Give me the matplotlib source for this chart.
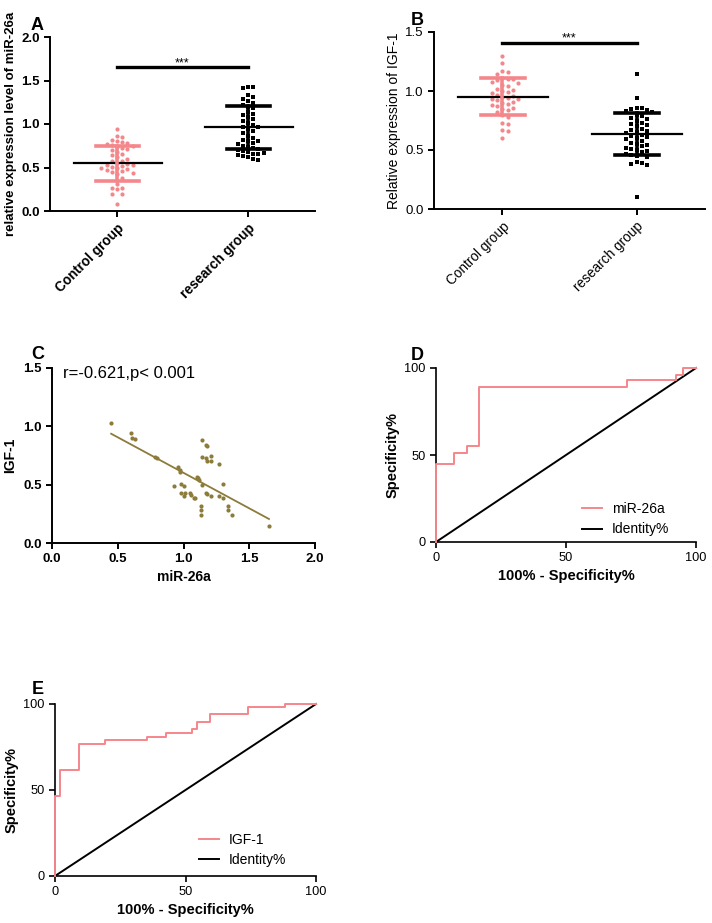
import numpy as np
import matplotlib
matplotlib.use("Agg")
import matplotlib.pyplot as plt

plt.rcParams['font.family'] = ['Liberation Sans', 'DejaVu Sans']

PINK = '#F4878B'
OLIVE = '#8C7B3A'

# ---------------- data ----------------
groups = ["Control group", "research group"]

A_control = [0.94, 0.86, 0.85, 0.82, 0.80, 0.79, 0.78, 0.77, 0.76, 0.75, 0.74, 0.72,
             0.71, 0.70, 0.68, 0.65, 0.64, 0.62, 0.60, 0.58, 0.57, 0.55, 0.54, 0.53,
             0.53, 0.52, 0.51, 0.50, 0.49, 0.48, 0.47, 0.46, 0.45, 0.44, 0.42, 0.38,
             0.31, 0.26, 0.26, 0.25, 0.20, 0.20, 0.08]
A_research = [1.43, 1.42, 1.41, 1.33, 1.31, 1.29, 1.26, 1.24, 1.22, 1.20, 1.18, 1.14,
              1.12, 1.10, 1.08, 1.06, 1.03, 1.01, 0.99, 0.97, 0.96, 0.94, 0.92, 0.90,
              0.86, 0.84, 0.82, 0.81, 0.80, 0.78, 0.77, 0.75, 0.74, 0.72, 0.71, 0.70,
              0.69, 0.68, 0.67, 0.66, 0.65, 0.64, 0.63, 0.62, 0.60, 0.59]
A_mean = [0.55, 0.96]
A_sd = [0.20, 0.245]
A_sig_y = 1.65

B_control = [1.30, 1.24, 1.17, 1.16, 1.14, 1.11, 1.10, 1.10, 1.09, 1.08, 1.07, 1.05,
             1.04, 1.02, 1.01, 1.00, 0.99, 0.98, 0.97, 0.96, 0.95, 0.94, 0.93, 0.93,
             0.92, 0.91, 0.90, 0.89, 0.88, 0.87, 0.86, 0.85, 0.84, 0.82, 0.80, 0.78,
             0.73, 0.72, 0.67, 0.66, 0.60]
B_research = [1.14, 0.94, 0.86, 0.86, 0.85, 0.84, 0.83, 0.82, 0.80, 0.79, 0.77, 0.76,
              0.75, 0.73, 0.72, 0.71, 0.70, 0.68, 0.67, 0.66, 0.65, 0.64, 0.63, 0.62,
              0.61, 0.60, 0.59, 0.58, 0.56, 0.55, 0.54, 0.53, 0.52, 0.51, 0.50, 0.49,
              0.48, 0.47, 0.46, 0.45, 0.44, 0.40, 0.39, 0.38, 0.37, 0.10]
B_mean = [0.95, 0.635]
B_sd = [0.157, 0.175]
B_sig_y = 1.41

C_mir = [0.45, 0.60, 0.61, 0.63, 0.78, 0.80, 0.96, 0.97, 0.97, 0.93, 0.98, 1.00,
         0.98, 1.00, 1.01, 1.05, 1.06, 1.08, 1.09, 1.10, 1.11, 1.12, 1.14, 1.14,
         1.17, 1.18, 1.14, 1.17, 1.18, 1.21, 1.21, 1.17, 1.18, 1.21, 1.13, 1.13,
         1.13, 1.27, 1.30, 1.27, 1.30, 1.34, 1.34, 1.37, 1.65]
C_igf = [1.03, 0.945, 0.90, 0.89, 0.74, 0.73, 0.655, 0.63, 0.61, 0.49, 0.51, 0.49,
         0.43, 0.40, 0.43, 0.427, 0.41, 0.39, 0.384, 0.57, 0.555, 0.54, 0.50, 0.88,
         0.84, 0.83, 0.74, 0.73, 0.70, 0.70, 0.75, 0.43, 0.42, 0.40, 0.32, 0.28,
         0.24, 0.68, 0.51, 0.40, 0.384, 0.32, 0.28, 0.24, 0.145]
C_text = "r=-0.621,p< 0.001"

D_fpr = [0, 0, 6.8, 11.9, 16.4, 73.6, 92.3, 95.1, 100]
D_tpr = [0, 44.8, 51.1, 55.4, 89.1, 93.3, 95.8, 100, 100]

E_fpr = [0, 0, 2.0, 9.3, 19.0, 35.3, 42.6, 52.5, 54.5, 59.5, 73.8, 88.1, 100]
E_tpr = [0, 46.7, 61.6, 76.7, 79.1, 81.0, 82.9, 85.3, 89.7, 94.0, 98.1, 100, 100]

# ---------------- figure ----------------
W, H = 712, 923
fig = plt.figure(figsize=(W / 100, H / 100), dpi=100)


def px_axes(l, r, t, b):
    return fig.add_axes([l / W, 1 - b / H, (r - l) / W, (b - t) / H])


def style(ax, lw=1.4):
    for s in ['top', 'right']:
        ax.spines[s].set_visible(False)
    for s in ['left', 'bottom']:
        ax.spines[s].set_linewidth(lw)
    ax.tick_params(direction='out', length=4, width=lw, color='black')


def swarm(ax, x0, vals, d_px):
    vals = np.asarray(vals, float)
    disp = ax.transData.transform(np.column_stack([np.full(len(vals), x0), vals]))
    cx = disp[0, 0]
    order = np.argsort(-vals)
    placed = []
    xs = np.zeros(len(vals))
    for i in order:
        y = disp[i, 1]
        for k in range(0, 40):
            offs = [0] if k == 0 else [k * d_px, -k * d_px]
            done = False
            for o in offs:
                ok = all((px - (cx + o)) ** 2 + (py - y) ** 2 >= (d_px * 0.95) ** 2
                         for px, py in placed)
                if ok:
                    placed.append((cx + o, y))
                    xs[i] = cx + o
                    done = True
                    break
            if done:
                break
    back = ax.transData.inverted().transform(np.column_stack([xs, disp[:, 1]]))
    return back[:, 0], vals


def dot_panel(ax, ctrl, res, mean, sd, ylim, yticks, sig_y, bold, ylabel, ylfs):
    style(ax)
    ax.set_xlim(-0.51, 1.51)
    ax.set_ylim(*ylim)
    ax.set_yticks(yticks)
    ax.set_yticklabels([f"{v:.1f}" for v in yticks],
                       fontweight='bold' if bold else 'normal', fontsize=9.5)
    ax.set_xticks([0, 1])
    ax.set_xticklabels(groups, rotation=45, ha='right', rotation_mode='anchor',
                       fontweight='bold' if bold else 'normal', fontsize=9.8)
    ax.set_ylabel(ylabel, fontweight='bold' if bold else 'normal', fontsize=ylfs,
                  labelpad=3)
    fig.canvas.draw()
    dpx = 5.2
    x, y = swarm(ax, 0, ctrl, dpx)
    ax.scatter(x, y, s=9, marker='o', color=PINK, linewidths=0, zorder=3)
    x, y = swarm(ax, 1, res, dpx)
    ax.scatter(x, y, s=8, marker='s', color='black', linewidths=0, zorder=3)
    # mean and SD
    cols = [PINK, 'black']
    for i in range(2):
        ax.plot([i - 0.33, i + 0.34], [mean[i]] * 2, color='black', lw=1.6, zorder=4)
        for v in (mean[i] - sd[i], mean[i] + sd[i]):
            ax.plot([i - 0.16, i + 0.17], [v, v], color=cols[i], lw=2.6, zorder=4)
        ax.plot([i, i], [mean[i] - sd[i], mean[i] + sd[i]], color=cols[i], lw=2.6,
                zorder=4)
    ax.plot([0, 1], [sig_y, sig_y], color='black', lw=2.4, zorder=4)
    ax.text(0.5, sig_y - 0.01 * (ylim[1] - ylim[0]), "***", ha='center',
            va='bottom', fontsize=9)


# Panel A
axA = px_axes(50, 315, 37, 211)
dot_panel(axA, A_control, A_research, A_mean, A_sd, (0, 2.0),
          [0.0, 0.5, 1.0, 1.5, 2.0], A_sig_y, True,
          "relative expression level of miR-26a", 9.5)

# Panel B
axB = px_axes(434, 705, 32, 209)
dot_panel(axB, B_control, B_research, B_mean, B_sd, (0, 1.5),
          [0.0, 0.5, 1.0, 1.5], B_sig_y, False,
          "Relative expression of IGF-1", 10)

# Panel C
axC = px_axes(52, 315, 368, 543)
style(axC)
axC.set_xlim(0, 2.0)
axC.set_ylim(0, 1.5)
axC.set_xticks([0.0, 0.5, 1.0, 1.5, 2.0])
axC.set_yticks([0.0, 0.5, 1.0, 1.5])
axC.set_xticklabels([f"{v:.1f}" for v in [0.0, 0.5, 1.0, 1.5, 2.0]],
                    fontweight='bold', fontsize=9.5)
axC.set_yticklabels([f"{v:.1f}" for v in [0.0, 0.5, 1.0, 1.5]],
                    fontweight='bold', fontsize=9.5)
axC.scatter(C_mir, C_igf, s=9, color=OLIVE, linewidths=0, zorder=3)
slope, icpt = np.polyfit(C_mir, C_igf, 1)
xl = np.array([min(C_mir), max(C_mir)])
axC.plot(xl, slope * xl + icpt, color=OLIVE, lw=1.3)
axC.text(0.08, 1.45, C_text, fontsize=12, va='center', ha='left')
axC.set_xlabel("miR-26a", fontweight='bold', fontsize=10, labelpad=3)
axC.set_ylabel("IGF-1", fontweight='bold', fontsize=10, labelpad=4)


def roc_panel(ax, fpr, tpr, name, loc_pts):
    style(ax, lw=1.2)
    ax.set_xlim(0, 100)
    ax.set_ylim(0, 100)
    ax.set_xticks([0, 50, 100])
    ax.set_yticks([0, 50, 100])
    ax.tick_params(labelsize=9.2)
    ax.plot(fpr, tpr, drawstyle='steps-post', color=PINK, lw=1.4, label=name,
            clip_on=False, zorder=3)
    ax.plot([0, 100], [0, 100], color='black', lw=1.4, label='Identity%',
            clip_on=False)
    ax.set_xlabel("100% - Specificity%", fontweight='bold', fontsize=10.5, labelpad=3)
    ax.set_ylabel("Specificity%", fontweight='bold', fontsize=10.5, labelpad=3)
    ax.legend(loc='lower left', bbox_to_anchor=loc_pts, frameon=False, fontsize=10,
              handlelength=1.4, handletextpad=0.7, labelspacing=0.45,
              borderaxespad=0)


axD = px_axes(436, 696, 368, 542)
roc_panel(axD, D_fpr, D_tpr, "miR-26a", (0.542, 0.0))

axE = px_axes(55, 316, 704, 876)
roc_panel(axE, E_fpr, E_tpr, "IGF-1", (0.531, 0.02))

# panel letters
for letter, (x, y) in {"A": (31, 30), "B": (411, 25), "C": (31, 359),
                       "D": (411, 360), "E": (32, 694)}.items():
    fig.text(x / W, 1 - y / H, letter, fontsize=13, fontweight='bold',
             ha='left', va='baseline')

fig.savefig("out.png", dpi=100)
